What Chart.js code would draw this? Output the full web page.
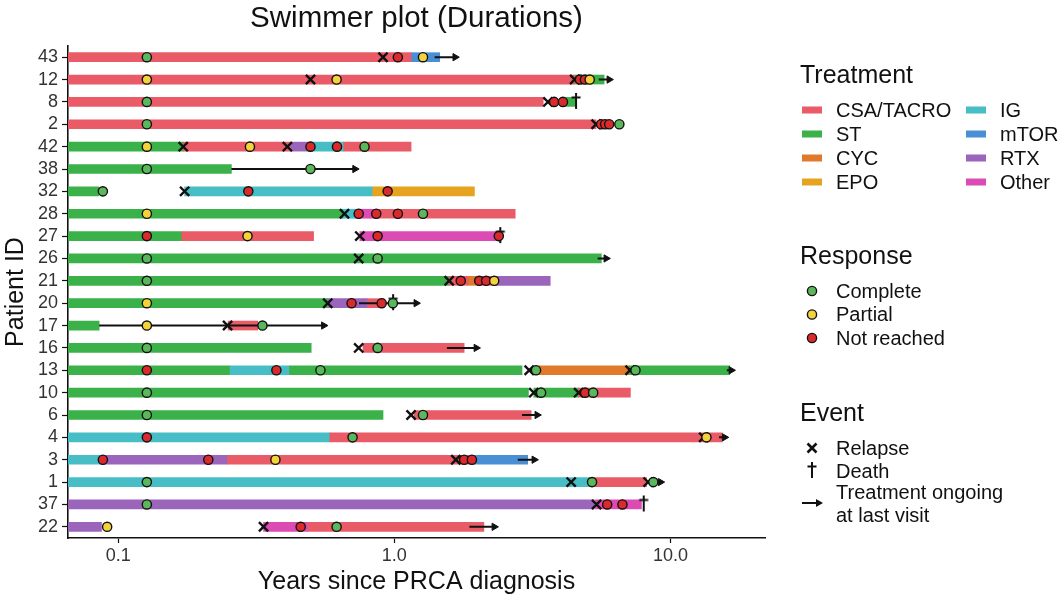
<!DOCTYPE html>
<html>
<head>
<meta charset="utf-8">
<script src="https://cdn.jsdelivr.net/npm/chart.js@4.4.1/dist/chart.umd.min.js"></script>
<style>
  html, body { margin: 0; padding: 0; background: #fff; }
</style>
</head>
<body>
<canvas id="swimmer" width="1064" height="603"></canvas>
<script>
// patients, top to bottom
const patients = ['43', '12', '8', '2', '42', '38', '32', '28', '27', '26', '21',
                  '20', '17', '16', '13', '10', '6', '4', '3', '1', '37', '22'];
const xMin = 0.0658, xMax = 22;
const xTicks = [0.1, 1, 10];
const S = xMin; // bars that start at diagnosis

// treatment segments: [patient, start, end] in years
const csa = [['43', S, 1.15], ['12', S, 4.5], ['8', S, 3.46], ['2', S, 5.38],
  ['42', 0.172, 0.42], ['42', 0.656, 1.15], ['28', 0.83, 2.74], ['27', 0.17, 0.51],
  ['21', 1.58, 1.85], ['21', 2.0, 2.3], ['20', 0.80, 0.92], ['17', 0.25, 0.32],
  ['16', 0.77, 1.79], ['10', 4.65, 7.16], ['6', 1.18, 3.13], ['4', 0.584, 15.4],
  ['3', 0.249, 1.95], ['1', 5.1, 8.19], ['22', 0.486, 2.11]];
const st = [['12', 4.5, 5.75], ['8', 4.0, 4.55], ['42', S, 0.172], ['38', S, 0.257],
  ['32', S, 0.085], ['28', S, 0.65], ['27', S, 0.17], ['26', S, 5.62], ['21', S, 1.58],
  ['20', S, 0.574], ['17', S, 0.0853], ['16', S, 0.50], ['13', S, 0.253],
  ['13', 0.417, 2.9], ['13', 7.1, 16.4], ['10', S, 3.06], ['10', 3.2, 4.65], ['6', S, 0.91]];
const cyc = [['21', 1.85, 2.0], ['13', 3.2, 7.1]];
const epo = [['32', 0.835, 1.95]];
const ig = [['42', 0.50, 0.656], ['32', 0.174, 0.835], ['28', 0.65, 0.72],
  ['13', 0.253, 0.417], ['4', S, 0.584], ['3', S, 0.088], ['1', S, 5.1]];
const mtor = [['43', 1.15, 1.46], ['3', 1.95, 3.04]];
const rtx = [['42', 0.42, 0.50], ['21', 2.3, 3.67], ['20', 0.574, 0.80],
  ['3', 0.088, 0.249], ['37', S, 5.3], ['22', S, 0.087]];
const other = [['28', 0.72, 0.83], ['27', 0.75, 2.39], ['37', 5.35, 7.85], ['22', 0.336, 0.486]];

// responses: [patient, time]
const complete = [['43', 0.127], ['8', 0.127], ['2', 0.127], ['2', 6.53], ['42', 0.78],
  ['38', 0.127], ['38', 0.497], ['32', 0.088], ['28', 1.27], ['26', 0.127], ['26', 0.87],
  ['21', 0.127], ['20', 0.988], ['17', 0.333], ['16', 0.127], ['16', 0.87], ['13', 0.54],
  ['13', 3.26], ['13', 7.47], ['10', 0.127], ['10', 3.4], ['10', 5.25], ['6', 0.127],
  ['6', 1.27], ['4', 0.706], ['1', 0.127], ['1', 5.2], ['1', 8.67], ['37', 0.127], ['22', 0.618]];
const partial = [['43', 1.27], ['12', 0.127], ['12', 0.618], ['12', 5.1], ['42', 0.127],
  ['42', 0.30], ['28', 0.127], ['27', 0.294], ['21', 2.3], ['20', 0.127], ['17', 0.127],
  ['4', 13.5], ['3', 0.371], ['22', 0.0912]];
const notReached = [['43', 1.03], ['12', 4.7], ['12', 4.9], ['8', 3.79], ['8', 4.08],
  ['2', 5.61], ['2', 5.8], ['2', 6.0], ['42', 0.497], ['42', 0.62], ['32', 0.296],
  ['32', 0.946], ['28', 0.743], ['28', 0.86], ['28', 1.03], ['27', 0.127], ['27', 0.87],
  ['27', 2.39], ['21', 1.74], ['21', 2.03], ['21', 2.15], ['20', 0.70], ['20', 0.90],
  ['13', 0.127], ['13', 0.374], ['10', 4.91], ['4', 0.127], ['3', 0.088], ['3', 0.212],
  ['3', 1.79], ['3', 1.91], ['37', 5.9], ['37', 6.7], ['22', 0.458]];

// events
const relapse = [['43', 0.91], ['12', 0.497], ['12', 4.5], ['8', 3.6], ['2', 5.38],
  ['42', 0.172], ['42', 0.41], ['32', 0.174], ['28', 0.66], ['27', 0.75], ['26', 0.743],
  ['21', 1.58], ['20', 0.574], ['17', 0.249], ['16', 0.743], ['13', 3.08], ['13', 7.14],
  ['10', 3.2], ['10', 4.65], ['6', 1.15], ['4', 13.2], ['3', 1.67], ['1', 4.37],
  ['1', 8.3], ['37', 5.4], ['22', 0.336]];
const death = [['8', 4.55], ['27', 2.42], ['20', 0.99], ['37', 8.0]];
// treatment ongoing: [patient, from, to]
const ongoing = [['43', 1.4, 1.66], ['12', 5.5, 6.0], ['38', 0.257, 0.72], ['26', 5.45, 5.85],
  ['20', 0.745, 1.2], ['17', 0.0853, 0.555], ['16', 1.55, 1.98], ['13', 16.0, 16.6],
  ['6', 2.9, 3.29], ['4', 15.0, 15.7], ['3', 2.8, 3.21], ['1', 8.6, 9.2], ['22', 1.87, 2.3]];

const treatmentNames = ['CSA/TACRO', 'ST', 'CYC', 'EPO', 'IG', 'mTOR', 'RTX', 'Other'];
const treatmentColors = ['#E85B67', '#3BB14A', '#E07A2A', '#E6A31F', '#47BEC5', '#4A8FD4', '#9B65BC', '#DB4BB3'];
const responseNames = ['Complete', 'Partial', 'Not reached'];
const responseColors = ['#5BB75B', '#F4D23A', '#DA2A2C'];

const FONT = '"Liberation Sans", Arial, sans-serif';

function daggerImage() {
  const c = document.createElement('canvas');
  c.width = 14; c.height = 22;
  const g = c.getContext('2d');
  g.strokeStyle = '#111';
  g.lineWidth = 2;
  g.beginPath();
  g.moveTo(7, 2); g.lineTo(7, 18);
  g.moveTo(2.5, 6.5); g.lineTo(11.5, 6.5);
  g.stroke();
  return c;
}
const dagger = daggerImage();

const segments = [csa, st, cyc, epo, ig, mtor, rtx, other];
const barSets = segments.map((segs, i) => ({
  type: 'bar',
  label: treatmentNames[i],
  data: segs.map(s => ({ x: [s[1], s[2]], y: s[0] })),
  backgroundColor: treatmentColors[i],
  borderWidth: 0,
  barThickness: 9,
  grouped: false,
  order: 5
}));

const pts = arr => arr.map(p => ({ x: p[1], y: p[0] }));
const responseSets = [complete, partial, notReached].map((arr, i) => ({
  type: 'scatter',
  label: responseNames[i],
  data: pts(arr),
  pointRadius: 4.6,
  pointBorderWidth: 1.4,
  pointBackgroundColor: responseColors[i],
  pointBorderColor: '#111',
  order: 1
}));

const arrowData = [];
ongoing.forEach(a => {
  arrowData.push({ x: a[1], y: a[0], head: false });
  arrowData.push({ x: a[2], y: a[0], head: true });
  arrowData.push({ x: null, y: a[0], head: false });
});

const datasets = [
  ...responseSets,
  {
    type: 'scatter', label: 'Death', data: pts(death),
    pointStyle: dagger, pointRadius: 7, order: 2
  },
  {
    type: 'scatter', label: 'Relapse', data: pts(relapse),
    pointStyle: 'crossRot', pointRadius: 6.5, pointBorderWidth: 2.4,
    pointBorderColor: '#111', order: 3
  },
  {
    type: 'line', label: 'Ongoing', data: arrowData,
    borderColor: '#111', borderWidth: 2, spanGaps: false,
    pointStyle: 'triangle', pointRotation: 90,
    pointRadius: c => (c.raw && c.raw.head ? 4.2 : 0),
    pointBackgroundColor: '#111', pointBorderColor: '#111', pointBorderWidth: 1,
    order: 4
  },
  ...barSets
];

const sideLegend = {
  id: 'sideLegend',
  afterDraw(chart) {
    const ctx = chart.ctx;
    ctx.save();
    ctx.fillStyle = '#111';
    ctx.textAlign = 'center';
    ctx.textBaseline = 'middle';
    ctx.font = '29.5px ' + FONT;
    ctx.fillText('Swimmer plot (Durations)', (chart.chartArea.left + chart.chartArea.right) / 2, 19);

    ctx.textAlign = 'left';
    ctx.textBaseline = 'alphabetic';
    ctx.font = '25px ' + FONT;
    ctx.fillText('Treatment', 800, 83);
    ctx.fillText('Response', 800, 264);
    ctx.fillText('Event', 800, 421);

    ctx.font = '20px ' + FONT;
    ctx.textBaseline = 'middle';
    treatmentNames.forEach((name, i) => {
      const col = i < 4 ? 0 : 1, row = i % 4;
      const x = col ? 966 : 802, y = 110 + row * 24;
      ctx.fillStyle = treatmentColors[i];
      ctx.fillRect(x, y - 3.5, 20, 7);
      ctx.fillStyle = '#111';
      ctx.fillText(name, x + 34, y + 1);
    });

    responseNames.forEach((name, i) => {
      const y = 291 + i * 23.5;
      ctx.beginPath();
      ctx.arc(812, y, 4.6, 0, Math.PI * 2);
      ctx.fillStyle = responseColors[i];
      ctx.fill();
      ctx.lineWidth = 1.4;
      ctx.strokeStyle = '#111';
      ctx.stroke();
      ctx.fillStyle = '#111';
      ctx.fillText(name, 836, y + 1);
    });

    // event keys
    ctx.strokeStyle = '#111';
    ctx.lineWidth = 2.6;
    ctx.beginPath();
    ctx.moveTo(807.5, 443.5); ctx.lineTo(816.5, 452.5);
    ctx.moveTo(816.5, 443.5); ctx.lineTo(807.5, 452.5);
    ctx.stroke();
    ctx.drawImage(dagger, 805, 460);
    ctx.lineWidth = 2;
    ctx.beginPath();
    ctx.moveTo(802, 503); ctx.lineTo(817, 503);
    ctx.stroke();
    ctx.beginPath();
    ctx.moveTo(823, 503); ctx.lineTo(816, 499); ctx.lineTo(816, 507); ctx.closePath();
    ctx.fillStyle = '#111';
    ctx.fill();
    ctx.fillText('Relapse', 836, 449);
    ctx.fillText('Death', 836, 472);
    ctx.fillText('Treatment ongoing', 836, 493);
    ctx.fillText('at last visit', 836, 516);
    ctx.restore();
  }
};

new Chart(document.getElementById('swimmer'), {
  type: 'bar',
  data: { labels: patients, datasets: datasets },
  options: {
    responsive: false,
    animation: false,
    indexAxis: 'y',
    layout: { padding: { top: 46, right: 299, bottom: 0, left: 0 } },
    plugins: { legend: { display: false }, tooltip: { enabled: false } },
    scales: {
      x: {
        type: 'logarithmic',
        min: xMin,
        max: xMax,
        afterBuildTicks: s => { s.ticks = xTicks.map(v => ({ value: v })); },
        afterFit: s => { s.height = 65; },
        ticks: {
          callback: v => Number(v).toFixed(1),
          color: '#333', font: { family: FONT, size: 18 }, padding: 2, maxRotation: 0
        },
        grid: { drawOnChartArea: false, color: '#111', tickLength: 5, tickWidth: 1.2 },
        border: { color: '#111', width: 1.6 },
        title: {
          display: true, text: 'Years since PRCA diagnosis',
          color: '#111', font: { family: FONT, size: 25 }, padding: { top: 0, bottom: 6 }
        }
      },
      y: {
        type: 'category',
        offset: true,
        afterFit: s => { s.width = 68; },
        ticks: { color: '#333', font: { family: FONT, size: 18 }, padding: 4, autoSkip: false },
        grid: { drawOnChartArea: false, offset: false, color: '#111', tickLength: 6, tickWidth: 1.2 },
        border: { color: '#111', width: 1.6 },
        title: {
          display: true, text: 'Patient ID',
          color: '#111', font: { family: FONT, size: 25 }, padding: { top: 1, bottom: 0 }
        }
      }
    }
  },
  plugins: [sideLegend]
});
</script>
</body>
</html>
